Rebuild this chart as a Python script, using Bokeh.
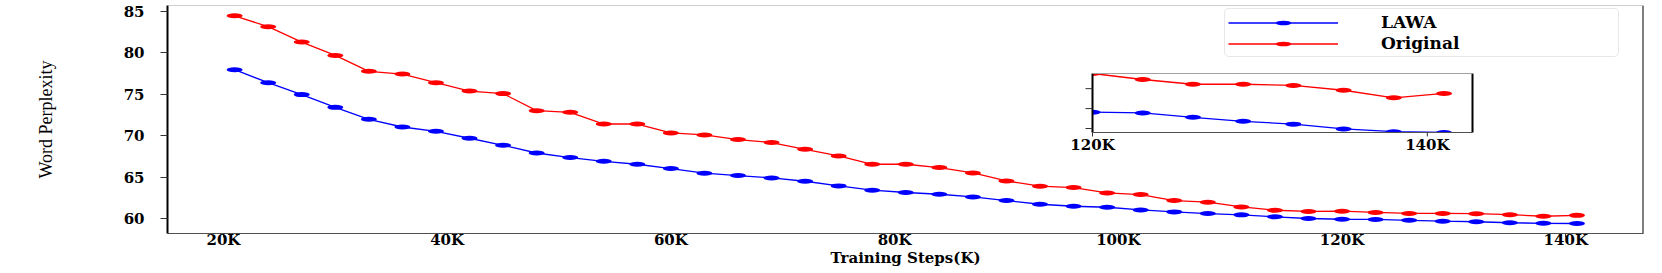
from bokeh.plotting import figure
from bokeh.models import FixedTicker, Range1d, Span, Legend, LegendItem, ColumnDataSource
from bokeh.embed import file_html
from bokeh.resources import INLINE
from bokeh.core.properties import value

# ---------------- data ----------------
steps = [21, 24, 27, 30, 33, 36, 39, 42, 45, 48, 51, 54, 57, 60, 63, 66, 69, 72, 75, 78,
         81, 84, 87, 90, 93, 96, 99, 102, 105, 108, 111, 114, 117, 120, 123, 126, 129,
         132, 135, 138, 141]
lawa = [77.97, 76.40, 74.96, 73.42, 71.98, 71.05, 70.53, 69.69, 68.84, 67.91, 67.36,
        66.91, 66.55, 66.03, 65.47, 65.19, 64.90, 64.50, 63.94, 63.42, 63.14, 62.93,
        62.61, 62.17, 61.72, 61.48, 61.36, 61.04, 60.80, 60.60, 60.44, 60.20, 60.00,
        59.91, 59.89, 59.78, 59.68, 59.61, 59.49, 59.42, 59.40]
original = [84.48, 83.16, 81.30, 79.69, 77.77, 77.44, 76.40, 75.39, 75.08, 73.02, 72.82,
            71.41, 71.41, 70.33, 70.09, 69.53, 69.17, 68.36, 67.55, 66.55, 66.55, 66.15,
            65.50, 64.54, 63.90, 63.74, 63.09, 62.89, 62.17, 61.97, 61.40, 61.00, 60.85,
            60.88, 60.73, 60.61, 60.61, 60.58, 60.46, 60.27, 60.38]
xticks = [20, 40, 60, 80, 100, 120, 140]
xtick_labels = ["20K", "40K", "60K", "80K", "100K", "120K", "140K"]
yticks = [60, 65, 70, 75, 80, 85]
series_names = ["LAWA", "Original"]
x_label = "Training Steps(K)"
y_label = "Word Perplexity"

inset_start = 120
inset_xlim = [120.0, 142.7]
inset_xticks = [120, 140]
inset_xtick_labels = ["120K", "140K"]
inset_yticks = [59.5, 60.0, 60.5]

# ---------------- style / layout ----------------
BLUE = "#0000ff"
RED = "#ff0000"
TOP_GRAY = "#a0a0a0"
BOTTOM_GRAY = "#505050"
TICK_FONT = "DejaVu Serif"
W, H = 1662, 273
BL, BR, BT, BB = 167, 19, 5, 40
frame_left = BL
frame_right = W - BR
frame_top = BT
frame_bottom = H - BB

p = figure(width=W, height=H, output_backend="svg", toolbar_location=None,
           x_range=Range1d(15.0, 146.95), y_range=Range1d(58.19, 85.72),
           min_border_left=BL, min_border_right=BR, min_border_top=BT,
           min_border_bottom=BB)
p.outline_line_color = None
p.grid.visible = False
p.background_fill_color = "white"
p.border_fill_color = "white"

# axes
xa = p.xaxis[0]
xa.ticker = FixedTicker(ticks=xticks)
xa.major_label_overrides = {t: l for t, l in zip(xticks, xtick_labels)}
xa.axis_label = x_label
xa.axis_line_color = BOTTOM_GRAY
xa.axis_line_width = 1
xa.major_tick_out = 4
xa.major_tick_in = 0
xa.minor_tick_out = 0
xa.minor_tick_in = 0
xa.major_tick_line_color = "#333333"
xa.major_label_standoff = -7
xa.major_label_text_font = TICK_FONT
xa.major_label_text_font_size = "15px"
xa.major_label_text_font_style = "bold"
xa.major_label_text_color = "black"
xa.axis_label_standoff = -3
xa.axis_label_text_font = TICK_FONT
xa.axis_label_text_font_size = "15px"
xa.axis_label_text_font_style = "bold"
xa.axis_label_text_color = "black"

ya = p.yaxis[0]
ya.ticker = FixedTicker(ticks=yticks)
ya.axis_label = y_label
ya.axis_line_color = "black"
ya.axis_line_width = 2
ya.major_tick_out = 7
ya.major_tick_in = 0
ya.minor_tick_out = 0
ya.minor_tick_in = 0
ya.major_tick_line_color = "#333333"
ya.major_label_standoff = 16
ya.major_label_text_font = TICK_FONT
ya.major_label_text_font_size = "15px"
ya.major_label_text_font_style = "bold"
ya.major_label_text_color = "black"
ya.axis_label_standoff = 65
ya.axis_label_text_font = "Liberation Serif"
ya.axis_label_text_font_size = "18px"
ya.axis_label_text_font_style = "normal"
ya.axis_label_text_color = "black"

p.add_layout(Span(location=p.y_range.end, dimension="width",
                  line_color=TOP_GRAY, line_width=1))
p.add_layout(Span(location=p.x_range.end, dimension="height",
                  line_color="black", line_width=2))

# main series
src = ColumnDataSource(dict(x=steps, lawa=lawa, orig=original))
bl = p.line("x", "lawa", source=src, line_color=BLUE, line_width=1.3)
be = p.ellipse("x", "lawa", source=src, width=16, height=5, width_units="screen",
               height_units="screen", fill_color=BLUE, line_color=None)
rl = p.line("x", "orig", source=src, line_color=RED, line_width=1.3)
re_ = p.ellipse("x", "orig", source=src, width=16, height=5, width_units="screen",
                height_units="screen", fill_color=RED, line_color=None)

legend = Legend(items=[LegendItem(label=series_names[0], renderers=[bl, be]),
                       LegendItem(label=series_names[1], renderers=[rl, re_])],
                location=(1224 - frame_left, frame_bottom - 57),
                glyph_width=110, glyph_height=19, spacing=1, padding=3, margin=0,
                label_standoff=43, label_width=234,
                label_text_font=TICK_FONT, label_text_font_size="17px",
                label_text_font_style="bold",
                label_text_color="black",
                border_line_color="#d0d0d0", border_line_width=1,
                background_fill_color="white", background_fill_alpha=0.85)
if "border_radius" in Legend.properties():
    legend.border_radius = 5
p.add_layout(legend)

# ---------------- inset (zoom on the last steps) ----------------
idx = [i for i, s in enumerate(steps) if s >= inset_start]
in_x = [steps[i] for i in idx]
in_lawa = [lawa[i] for i in idx]
in_orig = [original[i] for i in idx]
ix0, ix1 = inset_xlim
iy0, iy1 = min(in_lawa + in_orig), max(in_lawa + in_orig)

box_l, box_r, box_t, box_b = 1092, 1472, 73, 132  # pixels of the inset frame
kx = (box_r - box_l) / (ix1 - ix0)
ky = (box_b - box_t) / (iy1 - iy0)
p.extra_x_ranges = {"ix": Range1d(ix0 - (box_l - frame_left) / kx,
                                  ix1 + (frame_right - box_r) / kx)}
p.extra_y_ranges = {"iy": Range1d(iy0 - (frame_bottom - box_b) / ky,
                                  iy1 + (box_t - frame_top) / ky)}
R = dict(x_range_name="ix", y_range_name="iy")

p.quad(left=[ix0], right=[ix1], bottom=[iy0], top=[iy1], fill_color="white",
       line_color=None, **R)
isrc = ColumnDataSource(dict(x=in_x, lawa=in_lawa, orig=in_orig))
p.line("x", "orig", source=isrc, line_color=RED, line_width=1.3, **R)
p.ellipse("x", "orig", source=isrc, width=16, height=5, width_units="screen",
          height_units="screen", fill_color=RED, line_color=None, **R)
p.line("x", "lawa", source=isrc, line_color=BLUE, line_width=1.3, **R)
p.ellipse("x", "lawa", source=isrc, width=16, height=5, width_units="screen",
          height_units="screen", fill_color=BLUE, line_color=None, **R)

# white masks emulate clipping to the inset frame
m = 14
mx, my = m / kx, m / ky
p.quad(left=[ix0 - mx, ix1, ix0 - mx, ix0 - mx],
       right=[ix0, ix1 + mx, ix1 + mx, ix1 + mx],
       bottom=[iy0 - my, iy0 - my, iy1, iy0 - my],
       top=[iy1 + my, iy1 + my, iy1 + my, iy0],
       fill_color="white", line_color=None, **R)

# inset spines
p.segment(x0=[ix0, ix1], y0=[iy0, iy0], x1=[ix0, ix1], y1=[iy1, iy1],
          line_color="black", line_width=2, **R)
p.segment(x0=[ix0], y0=[iy1], x1=[ix1], y1=[iy1],
          line_color=TOP_GRAY, line_width=1, **R)
p.segment(x0=[ix0], y0=[iy0], x1=[ix1], y1=[iy0],
          line_color=BOTTOM_GRAY, line_width=1, **R)
# inset ticks
p.segment(x0=[ix0 - 7 / kx] * len(inset_yticks), y0=inset_yticks,
          x1=[ix0] * len(inset_yticks), y1=inset_yticks,
          line_color="#333333", line_width=1, **R)
p.segment(x0=inset_xticks, y0=[iy0] * len(inset_xticks),
          x1=inset_xticks, y1=[iy0 - 4 / ky] * len(inset_xticks),
          line_color="#333333", line_width=1, **R)
p.text(x=inset_xticks, y=[iy0] * len(inset_xticks), text=inset_xtick_labels,
       text_font=value(TICK_FONT), text_font_size="15px", text_font_style="bold",
       text_color="black", text_align="center", text_baseline="top", y_offset=3, **R)

open("out.html", "w").write(file_html(p, INLINE))
